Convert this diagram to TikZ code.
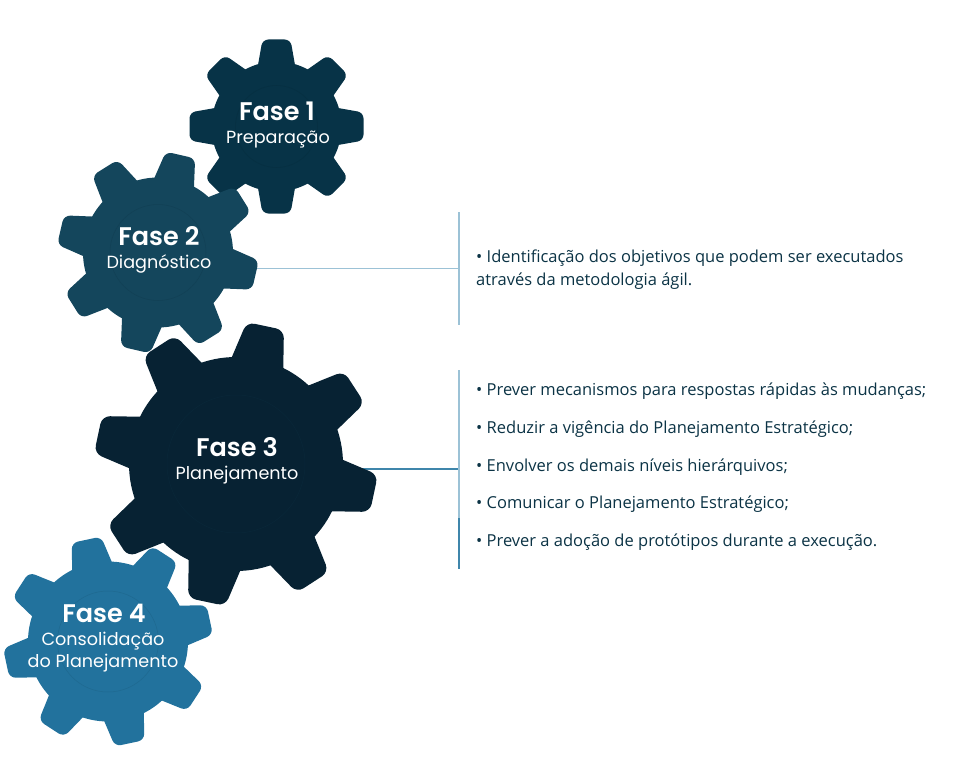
\documentclass[tikz,border=0pt]{standalone}
\usepackage{fontspec}
\setmainfont{Open Sans}
\newfontfamily\fasefont{Poppins}
\newfontfamily\fasetitulo{Poppins SemiBold}
\usetikzlibrary{positioning,backgrounds}

\definecolor{corum}{HTML}{073347}
\definecolor{cordois}{HTML}{14465C}
\definecolor{cortres}{HTML}{072233}
\definecolor{corquatro}{HTML}{22729D}
\definecolor{cortexto}{HTML}{0B3345}
\definecolor{linhaclara}{HTML}{9CC2D6}
\definecolor{linhaazul}{HTML}{3F86AB}

% center, body radius, tip radius, half width at base, half width at tip, first angle, colour
\newcommand{\dentes}[7]{
    \foreach \a in {0,45,...,315}
        \fill[#7, rounded corners=#5*0.42pt, shift={(#1.center)}, rotate=#6+\a]
            (#2-12,-#4) -- (#3,-#5) -- (#3,#5) -- (#2-12,#4) -- cycle;
}

\begin{document}
\begin{tikzpicture}[
    x=1pt, y=-1pt,
    roda/.style={circle, inner sep=0pt},
    cubo/.style={circle, draw, line width=0.5pt, inner sep=0pt},
    titulo/.style={text=white, font=\fasetitulo\fontsize{25.5}{30}\selectfont},
    subtitulo/.style={text=white, font=\fasefont\fontsize{17.6}{20}\selectfont},
    item/.style={anchor=west, inner sep=0pt, text=cortexto, font=\fontsize{16.5}{22.5}\selectfont, align=left},
    ramo/.style={line width=1.1pt}
]
    \useasboundingbox (0,0) rectangle (956,768);

    % Gears
    \node[roda, fill=corum, minimum size=130pt] (roda1) at (276.5,126.5) {};
    \dentes{roda1}{65}{87}{20}{14}{0}{corum}
    \node[cubo, draw=corum!92!black, minimum size=82pt] (fase1) at (roda1) {};
    \node[titulo] (titulo1) at (277,111) {Fase 1};
    \node[subtitulo] (sub1) at (278,140) {Preparação};

    \node[roda, fill=cordois, minimum size=150pt] (roda2) at (158,252.5) {};
    \dentes{roda2}{75}{100}{22}{15}{-13}{cordois}
    \node[cubo, draw=cordois!92!black, minimum size=96pt] (fase2) at (roda2) {};
    \node[titulo] (titulo2) at (159,236) {Fase 2};
    \node[subtitulo] (sub2) at (159,264) {Diagnóstico};

    \node[roda, fill=cortres, minimum size=214pt] (roda3) at (236,464) {};
    \dentes{roda3}{107}{141}{28}{19}{-12}{cortres}
    \node[cubo, draw=cortres!85!cordois, minimum size=138pt] (fase3) at (roda3) {};
    \node[titulo] (titulo3) at (237,447) {Fase 3};
    \node[subtitulo] (sub3) at (237,475) {Planejamento};

    \node[roda, fill=corquatro, minimum size=160pt] (roda4) at (108,641.5) {};
    \dentes{roda4}{80}{104}{22}{15}{12}{corquatro}
    \node[cubo, draw=corquatro!92!black, minimum size=101pt] (fase4) at (roda4) {};
    \node[titulo] (titulo4) at (104,613) {Fase 4};
    \node[subtitulo] (sub4) at (103,641) {Consolidação};
    \node[subtitulo] (sub5) at (103,663) {do Planejamento};

    % Brackets
    \coordinate (topo2) at (459,212);
    \coordinate (base2) at (459,325);
    \coordinate (junta2) at (459,268.5);
    \coordinate (topo3) at (459,370);
    \coordinate (base3) at (459,569);
    \coordinate (junta3) at (459,469);

    \draw[ramo, linhaclara] (topo2) -- (base2);
    \draw[ramo, linhaclara, shorten >=51pt] (topo3) -- (base3);
    \draw[ramo, linhaazul, shorten <=148pt] (topo3) -- (base3);

    \begin{scope}[on background layer]
        \draw[ramo, linhaclara, line width=1.6pt] (roda2.center |- junta2) -- (junta2);
        \draw[ramo, linhaazul] (roda3.center |- junta3) -- (junta3);
    \end{scope}

    % Text
    \node[item] (obj) at (476,269.5) {• Identificação dos objetivos que podem ser executados\\através da metodologia ágil.};
    \node[item] (acao1) at (476,391.5) {• Prever mecanismos para respostas rápidas às mudanças;};
    \node[item] (acao2) at (476,429.5) {• Reduzir a vigência do Planejamento Estratégico;};
    \node[item] (acao3) at (476,467.5) {• Envolver os demais níveis hierárquivos;};
    \node[item] (acao4) at (476,504.5) {• Comunicar o Planejamento Estratégico;};
    \node[item] (acao5) at (476,542.5) {• Prever a adoção de protótipos durante a execução.};
\end{tikzpicture}
\end{document}
